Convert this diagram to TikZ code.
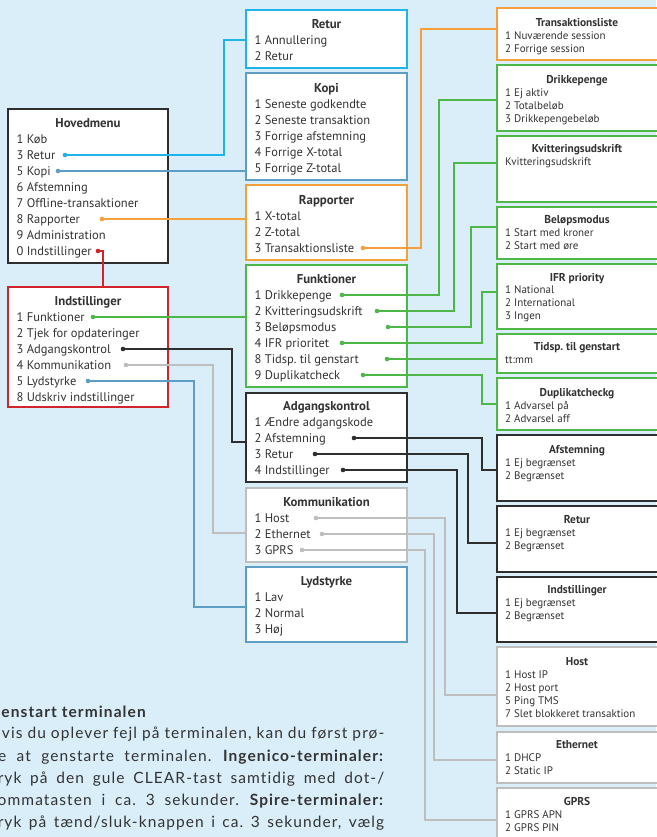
\documentclass[tikz,border=0pt]{standalone}
\usepackage{fontspec}
\setmainfont{PT Sans}
\newfontfamily\parafont{Lato}[LetterSpace=7,Ligatures=NoCommon]
\definecolor{bgc}{HTML}{D9EEF9}
\definecolor{cCyan}{HTML}{1DB4E9}
\definecolor{cSteel}{HTML}{5E9DC6}
\definecolor{cOrange}{HTML}{F5A03A}
\definecolor{cGreen}{HTML}{4DB848}
\definecolor{cDark}{HTML}{2E2E2E}
\definecolor{cGray}{HTML}{BEBEBE}
\definecolor{cRed}{HTML}{D3232B}
\definecolor{txt}{HTML}{333333}
\newcommand\mbx[9]{%
  \node[panel, draw=#2, minimum width=#5pt, minimum height=#6pt] (#1) at (#3,#4) {};
  \node[ttl] (#1-t) at (#3+#5/2,#7) {#8};
  \foreach \t [count=\i] in {#9} \node[itm] (#1-\i) at (#3+8.5,#7+16*\i) {\t};
}
\newcommand\rbx[7]{%
  \node[panel, draw=#2, minimum width=163pt, minimum height=#4pt] (#1) at (497,#3) {};
  \node[rttl] (#1-t) at (577,#5+3.8) {#6};
  \foreach \t [count=\i] in {#7} \node[ritm] (#1-\i) at (505,#5+3.8+12.5+13*\i-13) {\t};
}
\begin{document}
\frenchspacing
\begin{tikzpicture}[x=1pt,y=-1pt,
  panel/.style={draw, fill=white, line width=1.3pt, anchor=north west, inner sep=0pt, outer sep=0pt},
  ttl/.style={anchor=base, inner sep=0pt, font=\fontsize{12.8}{14}\selectfont\bfseries, text=txt},
  itm/.style={anchor=base west, inner sep=0pt, font=\fontsize{12.5}{14}\selectfont, text=txt},
  rttl/.style={anchor=base, inner sep=0pt, font=\fontsize{11.4}{13}\selectfont\bfseries, text=txt},
  ritm/.style={anchor=base west, inner sep=0pt, font=\fontsize{11}{13}\selectfont, text=txt},
  dotn/.style={circle, inner sep=0pt, minimum size=4.6pt},
  conn/.style={line width=1.2pt},
  para/.style={anchor=base west, inner sep=0pt, font=\parafont\fontsize{15.5}{17}\selectfont, text=txt},
]
\useasboundingbox (0,0) rectangle (656,837);
\fill[bgc] (0,0) rectangle (656,837);

% left column
\mbx{hm}{cDark}{8}{109}{160}{154}{127.5}{Hovedmenu}{1 Køb,3 Retur,5 Kopi,6 Afstemning,7 Offline-transaktioner,8 Rapporter,9 Administration,0 Indstillinger}
\mbx{ind}{cRed}{8}{287}{160}{120}{305.5}{Indstillinger}{1 Funktioner,2 Tjek for opdateringer,3 Adgangskontrol,4 Kommunikation,5 Lydstyrke,8 Udskriv indstillinger}

% middle column
\mbx{ret}{cCyan}{246}{10}{161}{58}{28.5}{Retur}{1 Annullering,2 Retur}
\mbx{kopi}{cSteel}{246}{73}{161}{107}{92.5}{Kopi}{1 Seneste godkendte,2 Seneste transaktion,3 Forrige afstemning,4 Forrige X-total,5 Forrige Z-total}
\mbx{rap}{cOrange}{246}{185}{161}{75}{204.5}{Rapporter}{1 X-total,2 Z-total,3 Transaktionsliste}
\mbx{fun}{cGreen}{246}{265}{161}{122}{283.5}{Funktioner}{1 Drikkepenge,2 Kvitteringsudskrift,3 Beløpsmodus,4 IFR prioritet,8 Tidsp. til genstart,9 Duplikatcheck}
\mbx{adg}{cDark}{246}{393}{161}{89}{410.5}{Adgangskontrol}{1 Ændre adgangskode,2 Afstemning,3 Retur,4 Indstillinger}
\mbx{kom}{cGray}{246}{488}{161}{74}{506.5}{Kommunikation}{1 Host,2 Ethernet,3 GPRS}
\mbx{lyd}{cSteel}{246}{567}{161}{75}{585.5}{Lydstyrke}{1 Lav,2 Normal,3 Høj}

% right column
\rbx{trans}{cOrange}{8}{52}{23}{Transaktionsliste}{1 Nuværende session,2 Forrige session}
\rbx{drik}{cGreen}{65}{66}{80}{Drikkepenge}{1 Ej aktiv,2 Totalbeløb,3 Drikkepengebeløb}
\rbx{kvit}{cGreen}{136}{66}{149}{Kvitteringsudskrift}{Kvitteringsudskrift}
\rbx{bel}{cGreen}{207}{52}{220}{Beløpsmodus}{1 Start med kroner,2 Start med øre}
\rbx{ifr}{cGreen}{264}{65}{277.5}{IFR priority}{1 National,2 International,3 Ingen}
\rbx{tid}{cGreen}{334}{39}{347}{Tidsp. til genstart}{tt:mm}
\rbx{dup}{cGreen}{378}{52}{393}{Duplikatcheckg}{1 Advarsel på,2 Advarsel aff}
\rbx{afs}{cDark}{435}{66}{450}{Afstemning}{1 Ej begrænset,2 Begrænset}
\rbx{rret}{cDark}{506}{66}{520}{Retur}{1 Ej begrænset,2 Begrænset}
\rbx{rind}{cDark}{577}{65}{590}{Indstillinger}{1 Ej begrænset,2 Begrænset}
\rbx{host}{cGray}{647}{79}{662}{Host}{1 Host IP,2 Host port,5 Ping TMS,7 Slet blokkeret transaktion}
\rbx{eth}{cGray}{732}{51}{745}{Ethernet}{1 DHCP,2 Static IP}
\rbx{gprs}{cGray}{788}{60}{802}{GPRS}{1 GPRS APN,2 GPRS PIN}

% dots
\node[dotn, fill=cCyan] (dhRet) at (65,155) {};
\node[dotn, fill=cSteel] (dhKop) at (58,171) {};
\node[dotn, fill=cOrange] (dhRap) at (102,219) {};
\node[dotn, fill=cRed] (dhInd) at (98,251) {};
\node[dotn, fill=cGreen] (diFun) at (93,317) {};
\node[dotn, fill=cDark] (diAdg) at (123,349) {};
\node[dotn, fill=cGray] (diKom) at (126,365) {};
\node[dotn, fill=cSteel] (diLyd) at (88,381) {};
\node[dotn, fill=cOrange] (drTr) at (363,248) {};
\node[dotn, fill=cGreen] (df1) at (342,295) {};
\node[dotn, fill=cGreen] (df2) at (377,311) {};
\node[dotn, fill=cGreen] (df3) at (388,327) {};
\node[dotn, fill=cGreen] (df4) at (342,343) {};
\node[dotn, fill=cGreen] (df5) at (387,359) {};
\node[dotn, fill=cGreen] (df6) at (363,375) {};
\node[dotn, fill=cDark] (da1) at (354,438) {};
\node[dotn, fill=cDark] (da2) at (315,454) {};
\node[dotn, fill=cDark] (da3) at (343,470) {};
\node[dotn, fill=cGray] (dk1) at (316,518) {};
\node[dotn, fill=cGray] (dk2) at (322,534) {};
\node[dotn, fill=cGray] (dk3) at (302,550) {};

% connectors
\draw[conn, cCyan] (dhRet.center) -| (224,40) -- (224,40 -| ret.west);
\draw[conn, cSteel] (dhKop.center) -- (dhKop.center -| kopi.west);
\draw[conn, cOrange] (dhRap.center) -- (dhRap.center -| rap.west);
\draw[conn, cRed] (dhInd.center) -| (103,0 |- ind.north);
\draw[conn, cGreen] (diFun.center) -- (diFun.center -| fun.west);
\draw[conn, cDark] (diAdg.center) -| (232,442) -- (232,442 -| adg.west);
\draw[conn, cGray] (diKom.center) -| (213,533) -- (213,533 -| kom.west);
\draw[conn, cSteel] (diLyd.center) -| (194,607) -- (194,607 -| lyd.west);
\draw[conn, cOrange] (drTr.center) -| (421,29) -- (421,29 -| trans.west);
\draw[conn, cGreen] (df1.center) -| (439,100) -- (439,100 -| drik.west);
\draw[conn, cGreen] (df2.center) -| (454,163) -- (454,163 -| kvit.west);
\draw[conn, cGreen] (df3.center) -| (471,227) -- (471,227 -| bel.west);
\draw[conn, cGreen] (df4.center) -| (482,292) -- (482,292 -| ifr.west);
\draw[conn, cGreen] (df5.center) -- (df5.center -| tid.west);
\draw[conn, cGreen] (df6.center) -| (482,404) -- (482,404 -| dup.west);
\draw[conn, cDark] (da1.center) -| (482,470) -- (482,470 -| afs.west);
\draw[conn, cDark] (da2.center) -| (468,543) -- (468,543 -| rret.west);
\draw[conn, cDark] (da3.center) -| (457,613) -- (457,613 -| rind.west);
\draw[conn, cGray] (dk1.center) -| (445,695) -- (445,695 -| host.west);
\draw[conn, cGray] (dk2.center) -| (434,760) -- (434,760 -| eth.west);
\draw[conn, cGray] (dk3.center) -| (425,820) -- (425,820 -| gprs.west);

% paragraph
\node[para] (p0) at (-11,717) {\bfseries Genstart terminalen};
\node[para] (p1) at (-11,738) {\makebox[395pt][s]{Hvis du oplever fejl på terminalen, kan du først prø-}};
\node[para] (p2) at (-11,761) {\makebox[395pt][s]{ve at genstarte terminalen. \textbf{Ingenico-terminaler:}}};
\node[para] (p3) at (-11,783) {\makebox[395pt][s]{Tryk på den gule CLEAR-tast samtidig med dot-/}};
\node[para] (p4) at (-11,805) {\makebox[395pt][s]{kommatasten i ca. 3 sekunder. \textbf{Spire-terminaler:}}};
\node[para] (p5) at (-11,827) {\makebox[395pt][s]{Tryk på tænd/sluk-knappen i ca. 3 sekunder, vælg}};
\end{tikzpicture}
\end{document}
